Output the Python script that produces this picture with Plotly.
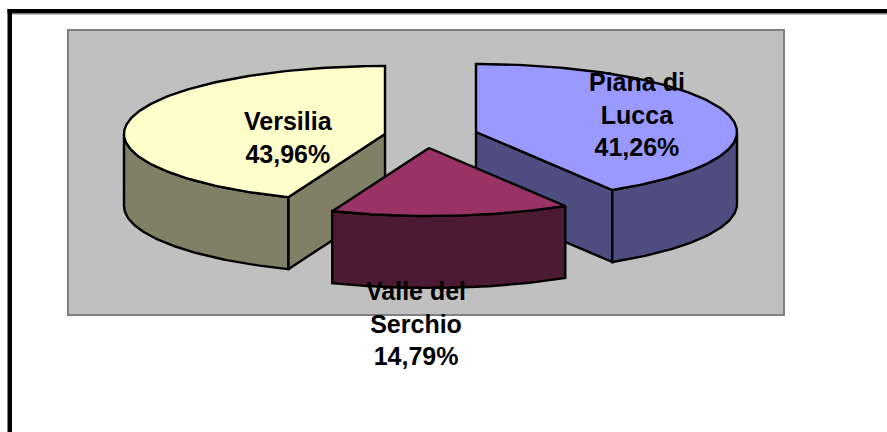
import numpy as np
import plotly.graph_objects as go

# ---- data ----
labels = ["Piana di<br>Lucca", "Valle del<br>Serchio", "Versilia"]
values = [41.26, 14.79, 43.96]
value_text = ["41,26%", "14,79%", "43,96%"]

# ---- styles ----
top_colors = ["#9999FF", "#993366", "#FFFFCC"]
side_colors = ["#4D4D80", "#4D1A33", "#808066"]

# ---- pie geometry (pixels of the drawing area) ----
RX, RY, DEPTH = 261, 68, 72
CENTRE = (431, 136)
EXPLODE = [(45, -4), (-2, 12), (-46, -2)]
LABEL_POS = [(637, 114.5), (416, 323), (288, 137)]

total = sum(values)
edges = np.concatenate([[0], np.cumsum(values)]) / total * 2 * np.pi


def ell(cx, cy, a):
    return cx + RX * np.sin(a), cy - RY * np.cos(a)


def poly(x, y, fill):
    return go.Scatter(
        x=np.append(x, x[0]), y=np.append(y, y[0]), mode="lines", fill="toself",
        fillcolor=fill, line=dict(color="black", width=2.4, shape="linear"),
        hoverinfo="skip", showlegend=False,
    )


def wedge_traces(i):
    cx = CENTRE[0] + EXPLODE[i][0]
    cy = CENTRE[1] + EXPLODE[i][1]
    a0, a1 = edges[i], edges[i + 1]
    out = []
    # straight cut faces that look to the front
    for a in (a0, a1):
        px, py = ell(cx, cy, a)
        if np.cos(a) < 0.999 and ((i == 0 and a == a1) or (i == 2 and a == a0)):
            out.append(poly(np.array([cx, px, px, cx]),
                            np.array([cy, py, py + DEPTH, cy + DEPTH]), side_colors[i]))
    # visible rim: the part of the arc in the lower half of the ellipse
    lo, hi = max(a0, np.pi / 2), min(a1, 3 * np.pi / 2)
    t = np.linspace(lo, hi, 80)
    ax, ay = ell(cx, cy, t)
    out.append(poly(np.concatenate([ax, ax[::-1]]),
                    np.concatenate([ay, ay[::-1] + DEPTH]), side_colors[i]))
    # top face
    t = np.linspace(a0, a1, 160)
    ax, ay = ell(cx, cy, t)
    out.append(poly(np.concatenate([[cx], ax]), np.concatenate([[cy], ay]), top_colors[i]))
    return out


fig = go.Figure()
for i in (2, 0, 1):  # back slices first, the front slice last
    for tr in wedge_traces(i):
        fig.add_trace(tr)

shapes = [
    dict(type="rect", x0=68, x1=784, y0=30, y1=315, fillcolor="#C0C0C0",
         line=dict(color="#808080", width=2), layer="below"),
    dict(type="rect", x0=7.5, x1=12, y0=9, y1=440, fillcolor="black", line_width=0, layer="below"),
    dict(type="rect", x0=7.5, x1=900, y0=9, y1=13.5, fillcolor="black", line_width=0, layer="below"),
    dict(type="rect", x0=12, x1=900, y0=13.5, y1=14.5, fillcolor="#808080", line_width=0, layer="below"),
]
annotations = [
    dict(x=LABEL_POS[i][0], y=LABEL_POS[i][1], xref="x", yref="y", showarrow=False,
         xanchor="center", yanchor="middle", align="center",
         text=f"<b>{labels[i]}<br>{value_text[i]}</b>",
         font=dict(family="Liberation Sans", size=25, color="black"))
    for i in range(3)
]

fig.update_layout(
    width=887, height=432, margin=dict(l=0, r=0, t=0, b=0),
    paper_bgcolor="white", plot_bgcolor="white", showlegend=False,
    xaxis=dict(range=[0, 887], visible=False, fixedrange=True),
    yaxis=dict(range=[432, 0], visible=False, fixedrange=True),
    shapes=shapes, annotations=annotations,
)
fig.write_html("out.html", config={"displayModeBar": False},
               post_script="document.body.style.margin='0';document.body.style.overflow='hidden';")
